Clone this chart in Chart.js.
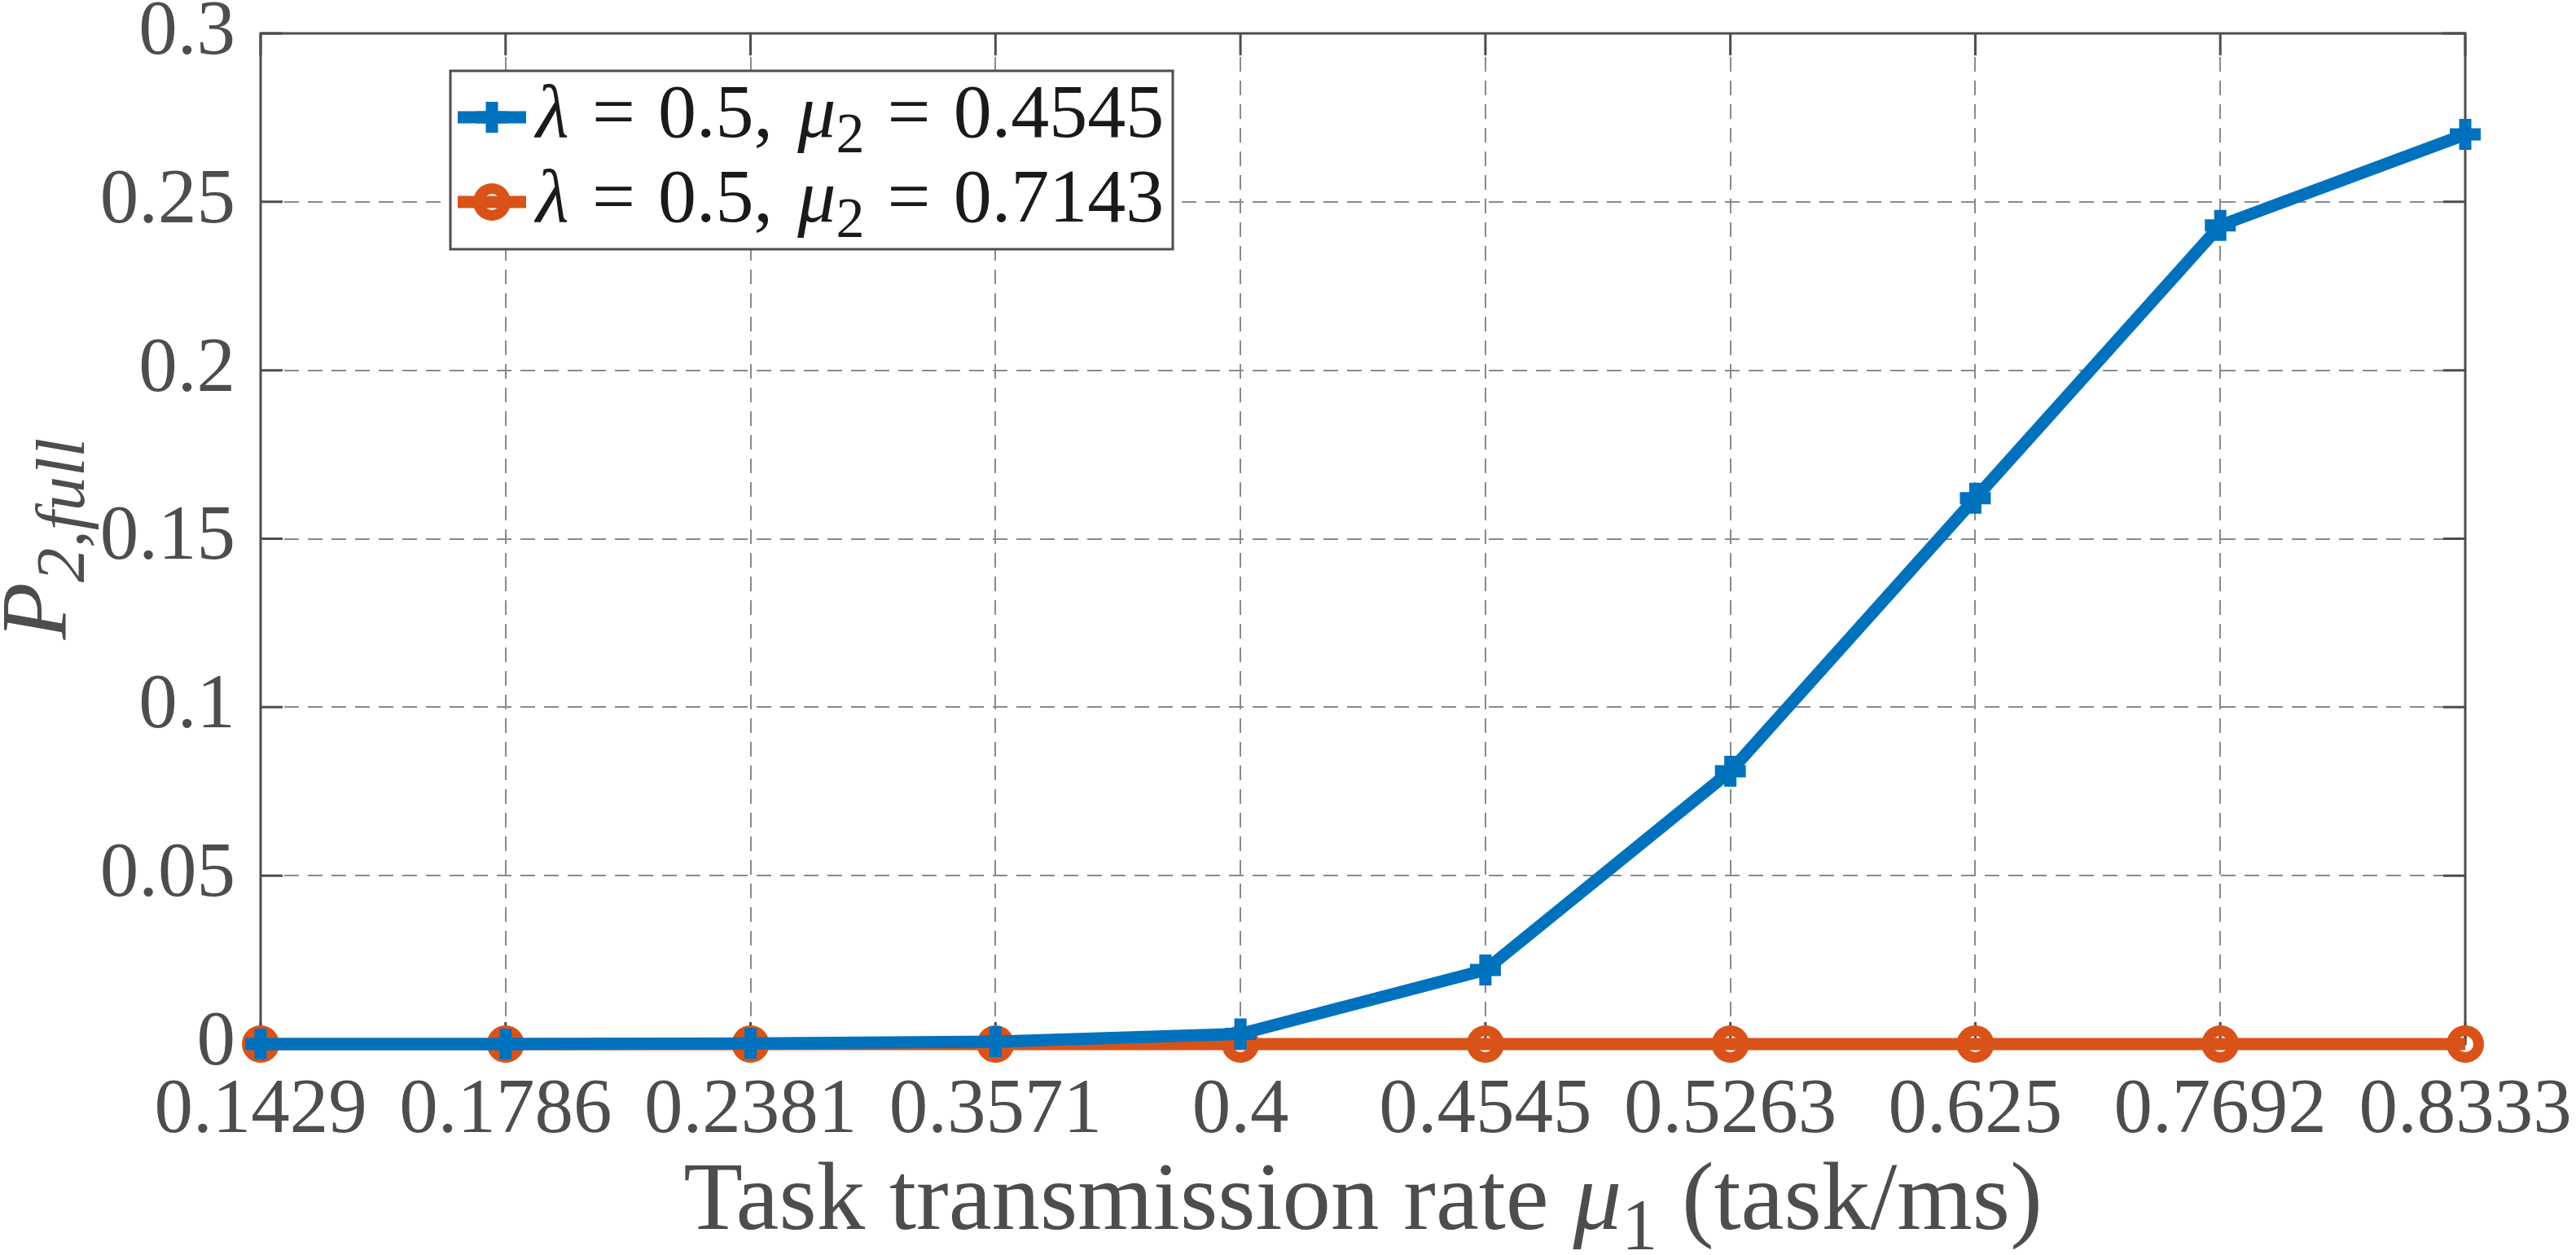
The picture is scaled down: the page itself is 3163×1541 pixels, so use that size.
<!DOCTYPE html>
<html>
<head>
<meta charset="utf-8">
<script src="https://cdn.jsdelivr.net/npm/chart.js@4.4.1/dist/chart.umd.min.js"></script>
<style>
  html, body { margin: 0; padding: 0; background: #fff; }
  canvas { display: block; }
</style>
</head>
<body>
<canvas id="probChart" width="3163" height="1541"></canvas>
<script>
// data
const muLabels = ['0.1429', '0.1786', '0.2381', '0.3571', '0.4', '0.4545', '0.5263', '0.625', '0.7692', '0.8333'];
const pFullMu2Low = [0, 0.00003, 0.0002, 0.0007, 0.003, 0.022, 0.081, 0.162, 0.243, 0.270];
const pFullMu2High = [0, 0, 0, 0, 0, 0, 0, 0, 0, 0];
const yTickValues = [0, 0.05, 0.1, 0.15, 0.2, 0.25, 0.3];

const BLUE = '#0072BD';
const ORANGE = '#D95319';
const AXIS = '#4d4d4d';
const SERIF = '"Liberation Serif", "DejaVu Serif", serif';

// text pieces: {t, italic, sub} or {gap: em}
function drawRich(ctx, parts, x, y, size, align) {
    const fontOf = p => (p.italic ? 'italic ' : '') + Math.round(p.sub ? size * 0.74 : size) + 'px ' + SERIF;
    let total = 0;
    parts.forEach(p => {
        if (p.gap !== undefined) { p.w = p.gap * size; }
        else { ctx.font = fontOf(p); p.w = ctx.measureText(p.t).width; }
        total += p.w;
    });
    let cx = align === 'center' ? x - total / 2 : x;
    ctx.textAlign = 'left';
    ctx.textBaseline = 'alphabetic';
    parts.forEach(p => {
        if (p.gap === undefined) {
            ctx.font = fontOf(p);
            ctx.fillText(p.t, cx, y + (p.sub ? size * 0.2 : 0));
        }
        cx += p.w;
    });
}

const boxPlugin = {
    id: 'boxPlugin',
    beforeDatasetsDraw(chart) {
        const ctx = chart.ctx;
        const a = chart.chartArea;
        const xs = chart.scales.x, ys = chart.scales.y;
        ctx.save();
        ctx.strokeStyle = AXIS;
        ctx.lineWidth = 3;
        ctx.strokeRect(a.left, a.top, a.right - a.left, a.bottom - a.top);
        // inward tick marks on all four sides
        ctx.beginPath();
        muLabels.forEach((_, i) => {
            const px = xs.getPixelForValue(i);
            ctx.moveTo(px, a.bottom); ctx.lineTo(px, a.bottom - 27);
            ctx.moveTo(px, a.top); ctx.lineTo(px, a.top + 27);
        });
        yTickValues.forEach(v => {
            const py = ys.getPixelForValue(v);
            ctx.moveTo(a.left, py); ctx.lineTo(a.left + 27, py);
            ctx.moveTo(a.right, py); ctx.lineTo(a.right - 27, py);
        });
        ctx.stroke();
        ctx.restore();
    },
    afterDraw(chart) {
        const ctx = chart.ctx;
        const a = chart.chartArea;
        ctx.save();

        // axis titles
        ctx.fillStyle = AXIS;
        drawRich(ctx, [
            { t: 'Task transmission rate ' },
            { t: 'μ', italic: true },
            { t: '1', sub: true },
            { t: ' (task/ms)' }
        ], (a.left + a.right) / 2, 1509, 119, 'center');

        ctx.save();
        ctx.translate(80, (a.top + a.bottom) / 2);
        ctx.rotate(-Math.PI / 2);
        drawRich(ctx, [
            { t: 'P', italic: true },
            { t: '2,', italic: true, sub: true },
            { t: 'full', italic: true, sub: true }
        ], 0, 0, 115, 'center');
        ctx.restore();

        // legend
        const lx = 553, ly = 87, lw = 887, lh = 219;
        ctx.fillStyle = '#fff';
        ctx.fillRect(lx, ly, lw, lh);
        ctx.strokeStyle = AXIS;
        ctx.lineWidth = 3;
        ctx.strokeRect(lx, ly, lw, lh);

        const rows = [
            { ds: chart.data.datasets[0], y: 144, val: '0.4545' },
            { ds: chart.data.datasets[1], y: 248, val: '0.7143' }
        ];
        rows.forEach(r => {
            ctx.strokeStyle = r.ds.borderColor;
            ctx.lineWidth = r.ds.borderWidth;
            ctx.beginPath();
            ctx.moveTo(562, r.y);
            ctx.lineTo(646, r.y);
            ctx.stroke();
            ctx.fillStyle = 'rgba(0,0,0,0)';
            ctx.lineWidth = r.ds.pointBorderWidth;
            Chart.helpers.drawPoint(ctx, {
                pointStyle: r.ds.pointStyle,
                radius: r.ds.pointRadius,
                borderWidth: r.ds.pointBorderWidth,
                rotation: 0
            }, 604, r.y);
            ctx.fillStyle = '#1a1a1a';
            drawRich(ctx, [
                { t: 'λ', italic: true },
                { gap: 0.3 }, { t: '=' }, { gap: 0.3 },
                { t: '0.5,' },
                { gap: 0.32 },
                { t: 'μ', italic: true },
                { t: '2', sub: true },
                { gap: 0.3 }, { t: '=' }, { gap: 0.3 },
                { t: r.val }
            ], 658, r.y + 24, 94, 'left');
        });
        ctx.restore();
    }
};

const ctx = document.getElementById('probChart').getContext('2d');
const probChart = new Chart(ctx, {
    type: 'line',
    data: {
        labels: muLabels,
        datasets: [
            {
                label: 'λ = 0.5, μ2 = 0.4545',
                data: pFullMu2Low,
                borderColor: BLUE,
                backgroundColor: BLUE,
                borderWidth: 15,
                pointStyle: 'cross',
                pointRadius: 19,
                pointBorderWidth: 15,
                pointBorderColor: BLUE,
                pointBackgroundColor: BLUE,
                tension: 0,
                clip: false
            },
            {
                label: 'λ = 0.5, μ2 = 0.7143',
                data: pFullMu2High,
                borderColor: ORANGE,
                backgroundColor: ORANGE,
                borderWidth: 15,
                pointStyle: 'circle',
                pointRadius: 16.5,
                pointBorderWidth: 13,
                pointBorderColor: ORANGE,
                pointBackgroundColor: 'rgba(0,0,0,0)',
                tension: 0,
                clip: false
            }
        ]
    },
    options: {
        responsive: false,
        animation: false,
        devicePixelRatio: 1,
        events: [],
        layout: { padding: { top: 41, right: 136, left: 0, bottom: 0 } },
        plugins: {
            legend: { display: false },
            tooltip: { enabled: false }
        },
        scales: {
            x: {
                type: 'category',
                offset: false,
                afterFit: s => { s.height = 259; s.paddingLeft = 0; s.paddingRight = 0; },
                grid: { color: '#8a8a8a', lineWidth: 2, drawTicks: false },
                border: { display: false, dash: [18, 11] },
                ticks: {
                    autoSkip: false,
                    maxRotation: 0,
                    padding: 26,
                    color: AXIS,
                    font: { family: SERIF, size: 95 }
                }
            },
            y: {
                min: 0,
                max: 0.3,
                afterFit: s => { s.width = 320; s.paddingTop = 0; s.paddingBottom = 0; },
                afterBuildTicks: s => { s.ticks = yTickValues.map(v => ({ value: v })); },
                grid: { color: '#8a8a8a', lineWidth: 2, drawTicks: false },
                border: { display: false, dash: [18, 11] },
                ticks: {
                    padding: 31,
                    color: AXIS,
                    font: { family: SERIF, size: 95 },
                    callback: v => String(+v.toFixed(2))
                }
            }
        }
    },
    plugins: [boxPlugin]
});
</script>
</body>
</html>
